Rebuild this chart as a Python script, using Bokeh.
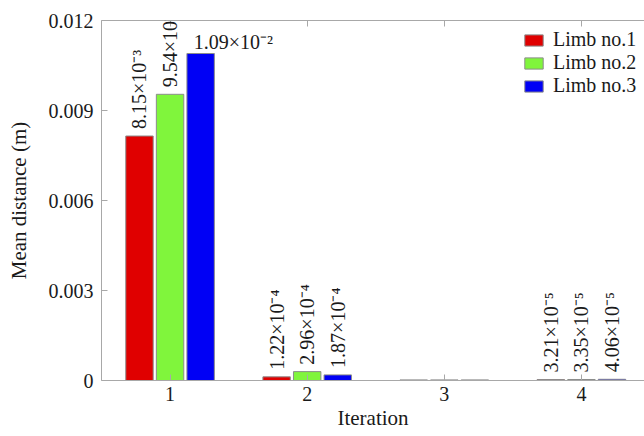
import math
from bokeh.plotting import figure
from bokeh.models import (ColumnDataSource, FixedTicker, LinearAxis, Range1d,
                          LabelSet, Legend, LegendItem)
from bokeh.embed import file_html
from bokeh.resources import INLINE

# ---- data ----
iterations = [1, 2, 3, 4]
limb1 = [8.15e-3, 1.22e-4, 2.0e-5, 3.21e-5]
limb2 = [9.54e-3, 2.96e-4, 2.0e-5, 3.35e-5]
limb3 = [1.09e-2, 1.87e-4, 2.0e-5, 4.06e-5]
labels1 = ["8.15×10⁻³", "1.22×10⁻⁴", "", "3.21×10⁻⁵"]
labels2 = ["9.54×10⁻³", "2.96×10⁻⁴", "", "3.35×10⁻⁵"]
labels3 = ["1.09×10⁻²", "1.87×10⁻⁴", "", "4.06×10⁻⁵"]
series_names = ["Limb no.1", "Limb no.2", "Limb no.3"]
y_ticks = [0, 0.003, 0.006, 0.009, 0.012]
y_tick_labels = ["0", "0.003", "0.006", "0.009", "0.012"]
x_tick_labels = ["1", "2", "3", "4"]

colors = ["#e00000", "#80f53c", "#0000f5"]
offsets = [-0.223, 0.0, 0.223]
FONT = "'Liberation Serif', 'Times New Roman', serif"

p = figure(width=644, height=436, output_backend="svg", toolbar_location=None,
           x_range=Range1d(0.5, 4.46), y_range=Range1d(0, 0.012),
           min_border_left=101, min_border_top=20, min_border_bottom=56,
           min_border_right=0, x_axis_location=None, y_axis_location=None)
p.outline_line_color = None
p.grid.visible = False
p.background_fill_color = "white"
p.border_fill_color = "white"

AX = "#a8a8a8"

def style_axis(ax):
    ax.axis_line_color = AX
    ax.major_tick_line_color = AX
    ax.major_tick_in = 6
    ax.major_tick_out = 0
    ax.minor_tick_line_color = None
    ax.major_label_text_font = FONT
    ax.major_label_text_font_size = "20px"
    ax.major_label_text_color = "#1a1a1a"
    ax.axis_label_text_font = FONT
    ax.axis_label_text_font_size = "21px"
    ax.axis_label_text_font_style = "normal"
    ax.axis_label_text_color = "#1a1a1a"

xb = LinearAxis(ticker=FixedTicker(ticks=iterations), axis_label="Iteration",
                major_label_overrides={t: s for t, s in zip(iterations, x_tick_labels)})
style_axis(xb)
xb.major_label_standoff = 6
xb.axis_label_standoff = 2
p.add_layout(xb, "below")

xt = LinearAxis(ticker=FixedTicker(ticks=iterations),
                major_label_overrides={t: "" for t in iterations})
style_axis(xt)
xt.major_label_text_font_size = "10px"
xt.major_label_standoff = 0
p.add_layout(xt, "above")

yl = LinearAxis(ticker=FixedTicker(ticks=y_ticks), axis_label="Mean distance (m)",
                major_label_overrides={t: s for t, s in zip(y_ticks, y_tick_labels)})
style_axis(yl)
yl.major_label_standoff = 8
yl.axis_label_standoff = 15
p.add_layout(yl, "left")

items = []
all_vals = [limb1, limb2, limb3]
all_labels = [labels1, labels2, labels3]
for i in range(3):
    xs = [it + offsets[i] for it in iterations]
    src = ColumnDataSource(dict(x=xs, top=all_vals[i]))
    r = p.vbar(x="x", top="top", width=0.2, bottom=0, source=src,
               fill_color=colors[i], line_color="#8c8c8c", line_width=1)
    items.append(LegendItem(label=series_names[i], renderers=[r]))

# rotated value labels
rx, ry, rt = [], [], []
for i in range(3):
    for j, it in enumerate(iterations):
        lab = all_labels[i][j]
        if lab == "" or (i == 2 and j == 0):
            continue
        rx.append(it + offsets[i])
        ry.append(all_vals[i][j])
        rt.append(lab)
rsrc = ColumnDataSource(dict(x=rx, y=ry, t=rt))
p.add_layout(LabelSet(x="x", y="y", text="t", source=rsrc, angle=math.pi / 2,
                      text_align="left", text_baseline="middle", y_offset=7,
                      text_font=FONT, text_font_size="20px", text_color="#1a1a1a"))

# horizontal label on the tallest bar
hsrc = ColumnDataSource(dict(x=[iterations[0] + offsets[2]], y=[limb3[0]], t=[labels3[0]]))
p.add_layout(LabelSet(x="x", y="y", text="t", source=hsrc, text_align="left",
                      text_baseline="bottom", x_offset=-7, y_offset=1,
                      text_font=FONT, text_font_size="20px", text_color="#1a1a1a"))

legend = Legend(items=items, location=(421, 283))
legend.label_text_font = FONT
legend.label_text_font_size = "20px"
legend.label_text_color = "#1a1a1a"
legend.glyph_width = 23
legend.glyph_height = 14
legend.label_height = 21
legend.label_standoff = 8
legend.spacing = 0
legend.padding = 2
legend.margin = 0
legend.border_line_color = None
legend.background_fill_alpha = 0
p.add_layout(legend, "center")

open("out.html", "w").write(file_html(p, INLINE))
